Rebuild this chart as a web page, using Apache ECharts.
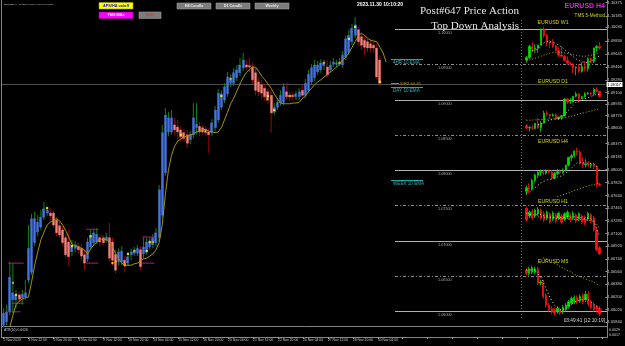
<!DOCTYPE html>
<html><head><meta charset="utf-8">
<script src="https://cdn.jsdelivr.net/npm/echarts@6/dist/echarts.min.js"></script>
<style>html,body{margin:0;padding:0;background:#000;}#c{width:625px;height:346px;}</style>
</head><body><div id="c"></div>
<script>
// ---------------- main H4 chart data (Heiken Ashi bodies + real wicks) ----------------
const tickLabels = ['2 Nov 2023','3 Nov 12:00','6 Nov 20:00','8 Nov 04:00','9 Nov 12:00','10 Nov 20:00','14 Nov 04:00','15 Nov 12:00','16 Nov 20:00','20 Nov 04:00','21 Nov 12:00','22 Nov 20:00','24 Nov 04:00','27 Nov 12:00','28 Nov 20:00','30 Nov 04:00'];
const haOpen = [1.0580,1.0585,1.0599,1.0616,1.0616,1.0623,1.0619,1.0620,1.0644,1.0655,1.0697,1.0712,1.0719,1.0733,1.0739,1.0739,1.0739,1.0729,1.0721,1.0715,1.0704,1.0698,1.0684,1.0689,1.0691,1.0689,1.0680,1.0674,1.0691,1.0697,1.0698,1.0704,1.0704,1.0701,1.0704,1.0698,1.0680,1.0670,1.0670,1.0672,1.0668,1.0680,1.0682,1.0682,1.0687,1.0681,1.0684,1.0691,1.0694,1.0697,1.0704,1.0736,1.0796,1.0854,1.0854,1.0864,1.0861,1.0857,1.0853,1.0850,1.0843,1.0850,1.0860,1.0862,1.0860,1.0858,1.0854,1.0853,1.0860,1.0871,1.0889,1.0899,1.0908,1.0923,1.0923,1.0931,1.0938,1.0945,1.0949,1.0948,1.0946,1.0938,1.0925,1.0921,1.0916,1.0911,1.0906,1.0882,1.0889,1.0895,1.0896,1.0911,1.0906,1.0906,1.0904,1.0904,1.0913,1.0906,1.0913,1.0925,1.0931,1.0939,1.0942,1.0948,1.0946,1.0942,1.0950,1.0950,1.0950,1.0949,1.0960,1.0967,1.0982,1.0991,1.0999,1.0989,1.0984,1.0982,1.0979,1.0977,1.0973,1.0956];
const haClose = [1.0597,1.0599,1.0648,1.0626,1.0623,1.0617,1.0624,1.0626,1.0689,1.0731,1.0731,1.0726,1.0733,1.0745,1.0743,1.0735,1.0722,1.0711,1.0708,1.0697,1.0680,1.0677,1.0694,1.0694,1.0687,1.0678,1.0668,1.0698,1.0708,1.0711,1.0709,1.0698,1.0697,1.0705,1.0675,1.0672,1.0658,1.0684,1.0685,1.0665,1.0677,1.0684,1.0687,1.0689,1.0663,1.0691,1.0698,1.0698,1.0704,1.0711,1.0772,1.0853,1.0878,1.0874,1.0874,1.0857,1.0854,1.0847,1.0845,1.0838,1.0850,1.0874,1.0865,1.0854,1.0854,1.0853,1.0850,1.0867,1.0885,1.0909,1.0908,1.0918,1.0932,1.0931,1.0938,1.0942,1.0949,1.0956,1.0946,1.0946,1.0928,1.0913,1.0911,1.0909,1.0904,1.0899,1.0881,1.0889,1.0896,1.0906,1.0918,1.0904,1.0904,1.0904,1.0908,1.0911,1.0906,1.0923,1.0936,1.0945,1.0949,1.0949,1.0952,1.0952,1.0935,1.0949,1.0953,1.0952,1.0953,1.0963,1.0986,1.0991,1.1001,1.1006,1.0982,1.0977,1.0974,1.0973,1.0973,1.0973,1.0932,1.0923];
const barHigh = [1.0604,1.0609,1.0670,1.0668,1.0630,1.0627,1.0630,1.0644,1.0722,1.0738,1.0741,1.0736,1.0743,1.0755,1.0748,1.0746,1.0743,1.0733,1.0726,1.0721,1.0709,1.0715,1.0701,1.0699,1.0697,1.0695,1.0687,1.0704,1.0715,1.0716,1.0718,1.0709,1.0708,1.0711,1.0725,1.0704,1.0687,1.0689,1.0692,1.0678,1.0684,1.0689,1.0691,1.0694,1.0692,1.0704,1.0704,1.0704,1.0709,1.0718,1.0779,1.0864,1.0888,1.0882,1.0885,1.0874,1.0871,1.0862,1.0858,1.0857,1.0855,1.0895,1.0895,1.0868,1.0864,1.0862,1.0860,1.0872,1.0891,1.0915,1.0913,1.0923,1.0939,1.0936,1.0945,1.0949,1.0959,1.0966,1.0956,1.0959,1.0952,1.0945,1.0931,1.0928,1.0922,1.0916,1.0913,1.0895,1.0902,1.0913,1.0923,1.0923,1.0911,1.0911,1.0912,1.0916,1.0921,1.0929,1.0942,1.0950,1.0956,1.0955,1.0957,1.0956,1.0956,1.0955,1.0959,1.0956,1.0959,1.0969,1.0991,1.0999,1.1007,1.1017,1.1003,1.0994,1.0990,1.0987,1.0984,1.0983,1.0979,1.0962];
const barLow = [1.0577,1.0580,1.0594,1.0597,1.0604,1.0613,1.0609,1.0616,1.0640,1.0651,1.0692,1.0706,1.0715,1.0729,1.0735,1.0729,1.0718,1.0706,1.0704,1.0692,1.0675,1.0663,1.0678,1.0684,1.0682,1.0671,1.0658,1.0670,1.0687,1.0692,1.0695,1.0692,1.0692,1.0697,1.0670,1.0665,1.0654,1.0664,1.0665,1.0655,1.0664,1.0672,1.0678,1.0678,1.0658,1.0675,1.0680,1.0687,1.0689,1.0692,1.0699,1.0732,1.0792,1.0848,1.0850,1.0850,1.0840,1.0841,1.0840,1.0831,1.0837,1.0845,1.0850,1.0848,1.0850,1.0848,1.0824,1.0848,1.0855,1.0867,1.0885,1.0895,1.0904,1.0918,1.0919,1.0926,1.0933,1.0940,1.0942,1.0939,1.0922,1.0906,1.0905,1.0902,1.0898,1.0894,1.0853,1.0878,1.0885,1.0891,1.0892,1.0899,1.0898,1.0899,1.0899,1.0899,1.0902,1.0902,1.0909,1.0921,1.0926,1.0935,1.0938,1.0942,1.0931,1.0938,1.0946,1.0946,1.0948,1.0945,1.0956,1.0963,1.0977,1.0987,1.0976,1.0970,1.0963,1.0967,1.0967,1.0966,1.0928,1.0919];
const ema10 = [null,null,1.0577,1.0594,1.0609,1.0614,1.0617,1.0619,1.0620,1.0641,1.0665,1.0684,1.0701,1.0712,1.0722,1.0726,1.0729,1.0731,1.0728,1.0722,1.0714,1.0704,1.0695,1.0692,1.0692,1.0689,1.0687,1.0681,1.0688,1.0694,1.0698,1.0702,1.0702,1.0701,1.0698,1.0691,1.0682,1.0674,1.0668,1.0665,1.0665,1.0665,1.0667,1.0668,1.0671,1.0674,1.0675,1.0678,1.0681,1.0687,1.0697,1.0722,1.0765,1.0800,1.0821,1.0834,1.0841,1.0844,1.0847,1.0848,1.0850,1.0851,1.0854,1.0855,1.0857,1.0857,1.0855,1.0854,1.0853,1.0854,1.0860,1.0871,1.0882,1.0894,1.0902,1.0912,1.0922,1.0931,1.0938,1.0942,1.0946,1.0946,1.0940,1.0933,1.0928,1.0922,1.0916,1.0908,1.0901,1.0895,1.0894,1.0894,1.0894,1.0895,1.0895,1.0896,1.0901,1.0905,1.0911,1.0916,1.0921,1.0925,1.0928,1.0932,1.0935,1.0939,1.0942,1.0946,1.0950,1.0956,1.0960,1.0966,1.0974,1.0982,1.0990,1.0994,1.0991,1.0987,1.0984,1.0983,1.0982,1.0974,1.0966,1.0953];
// signal dots: [bar, price, 'y' yellow | 'o' orange]
const signals = [[3,1.0640,'o'],[4,1.0623,'y'],[14,1.0746,'y'],[22,1.0692,'y'],[28,1.0706,'y'],[35,1.0668,'y'],[36,1.0670,'o'],[39,1.0665,'o'],[40,1.0681,'y'],[42,1.0685,'o'],[46,1.0685,'y'],[47,1.0698,'y'],[48,1.0698,'o'],[57,1.0850,'y'],[70,1.0905,'y'],[73,1.0929,'o'],[85,1.0905,'y'],[87,1.0885,'y'],[92,1.0905,'o'],[103,1.0952,'o'],[108,1.0952,'o'],[111,1.0986,'y'],[113,1.1003,'y'],[121,1.0925,'y']];
// session range brackets: [fromBar, toBar, price]
const ranges = [[2,6,1.0668],[3,6,1.0611],[2,5,1.0599],[27,30,1.0716],[27,30,1.0668],[45,48,1.0705],[45,48,1.0668]];
const priceTicks = [1.10375,1.10185,1.10030,1.09830,1.09645,1.09460,1.09280,1.09100,1.08935,1.08770,1.08600,1.08375,1.08185,1.08005,1.07820,1.07640,1.07465,1.07285,1.07100,1.06920,1.06740,1.06560,1.06380,1.06200,1.06020,1.05840];
const bidLineLevel = 1.0922;
const bidLabel = '1.09117';
const roundLevels = [1.10000,1.09500,1.09000,1.08500,1.08000,1.07500,1.07000,1.06500,1.06000];
const emaLevelNames = ['4HR 10 EMA','DAY 10 EMA','WEEK 10 EMA'];
const emaLevelValues = [1.0957,1.0918,1.0786];
const srLevelName = 'S/R2 60-61';
const srLevelValue = 1.0924;
const atrTicks = [0.0029,0.0017];
const atrText = 'ATR(10) 0.0026';

// ---------------- top-down mini panels: [open, close, low, high] ----------------
const w1Candles = [[1.0710,1.0750,1.0665,1.0780],[1.0750,1.0940,1.0730,1.0970],[1.0940,1.0895,1.0845,1.1010],[1.0895,1.0910,1.0835,1.0975],[1.0910,1.0965,1.0835,1.0970],[1.0965,1.1230,1.0960,1.1245],[1.1230,1.1125,1.1090,1.1275],[1.1125,1.1015,1.0945,1.1150],[1.1015,1.1005,1.0915,1.1045],[1.1005,1.0945,1.0910,1.1065],[1.0945,1.0870,1.0860,1.0965],[1.0870,1.0795,1.0765,1.0930],[1.0795,1.0775,1.0770,1.0945],[1.0775,1.0700,1.0685,1.0800],[1.0700,1.0660,1.0630,1.0770],[1.0660,1.0645,1.0615,1.0680],[1.0645,1.0575,1.0490,1.0660],[1.0575,1.0590,1.0450,1.0595],[1.0590,1.0520,1.0495,1.0640],[1.0520,1.0595,1.0495,1.0670],[1.0595,1.0565,1.0520,1.0695],[1.0565,1.0730,1.0515,1.0755],[1.0730,1.0685,1.0655,1.0755],[1.0685,1.0915,1.0655,1.0915],[1.0915,1.0940,1.0850,1.0965],[1.0940,1.0912,1.0880,1.1017]];
const w1MaSlow = [1.0700,1.0710,1.0725,1.0740,1.0755,1.0775,1.0795,1.0810,1.0825,1.0835,1.0840,1.0840,1.0835,1.0830,1.0820,1.0810,1.0800,1.0790,1.0780,1.0775,1.0775,1.0780,1.0790,1.0800,1.0815,1.0830];
const w1MaFast = [null,null,1.0870,1.0880,1.0900,1.0960,1.1000,1.1020,1.1020,1.1010,1.0990,1.0960,1.0930,1.0890,1.0850,1.0810,1.0770,1.0730,1.0700,1.0680,1.0665,1.0675,1.0680,1.0720,1.0755,1.0780];
const d1Candles = [[1.0590,1.0565,1.0550,1.0605],[1.0565,1.0568,1.0525,1.0590],[1.0568,1.0562,1.0540,1.0600],[1.0562,1.0615,1.0550,1.0620],[1.0615,1.0570,1.0555,1.0675],[1.0570,1.0620,1.0520,1.0640],[1.0620,1.0730,1.0615,1.0755],[1.0730,1.0715,1.0700,1.0755],[1.0715,1.0700,1.0665,1.0720],[1.0700,1.0710,1.0690,1.0725],[1.0710,1.0670,1.0660,1.0725],[1.0670,1.0685,1.0655,1.0690],[1.0685,1.0700,1.0655,1.0705],[1.0700,1.0885,1.0695,1.0890],[1.0885,1.0850,1.0830,1.0890],[1.0850,1.0852,1.0830,1.0895],[1.0852,1.0915,1.0845,1.0915],[1.0915,1.0940,1.0900,1.0965],[1.0940,1.0890,1.0850,1.0950],[1.0890,1.0910,1.0880,1.0920],[1.0910,1.0940,1.0900,1.0960],[1.0940,1.0950,1.0930,1.0960],[1.0950,1.0945,1.0920,1.0960],[1.0945,1.0990,1.0920,1.1010],[1.0990,1.0970,1.0960,1.1017],[1.0970,1.0912,1.0905,1.0975]];
const d1MaSlow = [1.0650,1.0650,1.0652,1.0654,1.0656,1.0658,1.0660,1.0662,1.0664,1.0666,1.0668,1.0670,1.0672,1.0676,1.0684,1.0692,1.0700,1.0710,1.0720,1.0728,1.0736,1.0744,1.0752,1.0760,1.0768,1.0775];
const d1MaFast = [null,null,null,null,1.0600,1.0605,1.0625,1.0640,1.0650,1.0660,1.0662,1.0665,1.0670,1.0710,1.0750,1.0780,1.0815,1.0850,1.0860,1.0870,1.0885,1.0900,1.0910,1.0925,1.0935,1.0935];
const h4Candles = [[1.0895,1.0905,1.0885,1.0912],[1.0905,1.0902,1.0890,1.0918],[1.0902,1.0925,1.0898,1.0930],[1.0925,1.0940,1.0920,1.0945],[1.0940,1.0948,1.0932,1.0952],[1.0948,1.0950,1.0938,1.0956],[1.0950,1.0946,1.0940,1.0955],[1.0946,1.0952,1.0942,1.0957],[1.0952,1.0949,1.0943,1.0956],[1.0949,1.0932,1.0928,1.0955],[1.0932,1.0945,1.0930,1.0950],[1.0945,1.0950,1.0940,1.0958],[1.0950,1.0948,1.0942,1.0956],[1.0948,1.0955,1.0944,1.0959],[1.0955,1.0968,1.0950,1.0970],[1.0968,1.0990,1.0965,1.0992],[1.0990,1.0995,1.0980,1.1000],[1.0995,1.1008,1.0990,1.1010],[1.1008,1.1005,1.0995,1.1017],[1.1005,1.0975,1.0970,1.1010],[1.0975,1.0970,1.0960,1.0990],[1.0970,1.0972,1.0962,1.0985],[1.0972,1.0968,1.0963,1.0980],[1.0968,1.0970,1.0960,1.0975],[1.0970,1.0965,1.0958,1.0976],[1.0965,1.0915,1.0905,1.0968],[1.0915,1.0912,1.0909,1.0919]];
const h4MaSlow = [null,null,null,null,null,null,null,null,null,null,null,1.0880,1.0882,1.0885,1.0888,1.0891,1.0894,1.0897,1.0900,1.0903,1.0906,1.0908,1.0910,1.0912,1.0914,1.0916,1.0917];
const h4MaFast = [1.0890,1.0893,1.0898,1.0905,1.0912,1.0918,1.0922,1.0926,1.0929,1.0929,1.0932,1.0935,1.0937,1.0940,1.0945,1.0953,1.0960,1.0968,1.0975,1.0975,1.0975,1.0975,1.0974,1.0973,1.0972,1.0963,1.0955];
const h1Candles = [[1.0995,1.0972,1.0968,1.0998],[1.0980,1.0987,1.0976,1.0990],[1.0989,1.0976,1.0972,1.0993],[1.0980,1.0991,1.0976,1.0994],[1.0984,1.0993,1.0980,1.0997],[1.0991,1.0976,1.0972,1.0994],[1.0985,1.0972,1.0968,1.0989],[1.0976,1.0987,1.0972,1.0990],[1.0984,1.0968,1.0965,1.0987],[1.0974,1.0985,1.0970,1.0989],[1.0982,1.0970,1.0966,1.0986],[1.0976,1.0985,1.0972,1.0988],[1.0980,1.0968,1.0964,1.0984],[1.0974,1.0984,1.0970,1.0987],[1.0978,1.0987,1.0974,1.0991],[1.0982,1.0972,1.0968,1.0986],[1.0976,1.0985,1.0972,1.0989],[1.0982,1.0970,1.0966,1.0985],[1.0974,1.0984,1.0970,1.0987],[1.0980,1.0968,1.0964,1.0983],[1.0978,1.0966,1.0962,1.0981],[1.0974,1.0985,1.0970,1.0988],[1.0982,1.0970,1.0966,1.0985],[1.0976,1.0953,1.0950,1.0980],[1.0953,1.0915,1.0912,1.0957],[1.0919,1.0907,1.0905,1.0922]];
const h1MaSlow = [null,null,null,null,1.0978,1.0978,1.0977,1.0977,1.0976,1.0976,1.0975,1.0975,1.0975,1.0974,1.0974,1.0974,1.0974,1.0973,1.0973,1.0973,1.0972,1.0972,1.0971,1.0969,1.0964,1.0958];
const h1MaFast = [1.0985,1.0983,1.0982,1.0982,1.0984,1.0983,1.0980,1.0980,1.0978,1.0978,1.0977,1.0978,1.0976,1.0977,1.0979,1.0978,1.0979,1.0977,1.0978,1.0976,1.0974,1.0976,1.0975,1.0970,1.0955,1.0940];
const m5Candles = [[1.0950,1.0947,1.0945,1.0952],[1.0947,1.0951,1.0945,1.0953],[1.0948,1.0952,1.0946,1.0954],[1.0948,1.0951,1.0946,1.0953],[1.0951,1.0938,1.0936,1.0953],[1.0938,1.0939,1.0936,1.0941],[1.0939,1.0926,1.0924,1.0941],[1.0927,1.0918,1.0916,1.0929],[1.0918,1.0914,1.0912,1.0920],[1.0915,1.0912,1.0910,1.0917],[1.0914,1.0911,1.0909,1.0916],[1.0912,1.0915,1.0910,1.0917],[1.0914,1.0911,1.0909,1.0916],[1.0912,1.0916,1.0910,1.0918],[1.0914,1.0918,1.0912,1.0920],[1.0917,1.0921,1.0915,1.0923],[1.0920,1.0924,1.0918,1.0926],[1.0921,1.0925,1.0919,1.0927],[1.0925,1.0921,1.0919,1.0927],[1.0922,1.0926,1.0920,1.0928],[1.0927,1.0921,1.0919,1.0929],[1.0923,1.0928,1.0921,1.0931],[1.0928,1.0919,1.0917,1.0931],[1.0921,1.0916,1.0914,1.0923],[1.0918,1.0914,1.0912,1.0920],[1.0917,1.0914,1.0911,1.0918],[1.0915,1.0910,1.0908,1.0917]];
const m5MaSlow = [null,null,null,null,null,null,1.0961,1.0960,1.0959,1.0957,1.0956,1.0955,1.0953,1.0952,1.0950,1.0949,1.0948,1.0946,1.0945,1.0944,1.0943,1.0942,1.0941,1.0940,1.0939,1.0937,1.0936];
const m5MaFast = [1.0950,1.0950,1.0950,1.0950,1.0947,1.0944,1.0939,1.0933,1.0927,1.0922,1.0918,1.0916,1.0914,1.0914,1.0915,1.0917,1.0919,1.0921,1.0922,1.0923,1.0923,1.0924,1.0923,1.0921,1.0919,1.0917,1.0915];

// ---------------- build ----------------
const SANS = '"Liberation Sans", Arial, sans-serif';
const SLOTS = 194;
const cats = Array.from({length: SLOTS}, (_, i) => String(i));
const MAIN_MIN = 1.057885, MAIN_MAX = 1.104112;

const haData = haOpen.map((o, i) => [o, haClose[i], Math.min(o, haClose[i]), Math.max(o, haClose[i])]);
const wickData = haOpen.map((o, i) => [i, barLow[i], barHigh[i], haClose[i] >= o ? 1 : 0]);

const grids = [
  {left: 2, right: 18, top: 0, height: 326},
  {left: 2, right: 18, top: 326, height: 11},
  {left: 395, right: 18, top: 0, height: 326},
  {left: 391, width: 32, top: 0, height: 326}
];
const xAxes = [
  {type: 'category', gridIndex: 0, data: cats, boundaryGap: true, axisLine: {show: false}, axisTick: {show: false}, axisLabel: {show: false}},
  {type: 'category', gridIndex: 1, data: cats, boundaryGap: true, position: 'bottom',
   axisLine: {show: false},
   axisTick: {show: true, interval: 7, alignWithLabel: true, length: 2, lineStyle: {color: '#9a9a9a'}},
   axisLabel: {interval: 7, align: 'left', margin: 1.5, fontSize: 3.4, color: '#c8c8c8', fontFamily: SANS,
     formatter: (v, idx) => tickLabels[idx / 8] || ''}},
  {type: 'value', gridIndex: 2, min: 0, max: 1, show: false},
  {type: 'value', gridIndex: 3, min: 0, max: 1, show: false}
];
const yAxes = [
  {type: 'value', gridIndex: 0, position: 'right', min: MAIN_MIN, max: MAIN_MAX, splitLine: {show: false},
   axisLine: {show: false}, axisTick: {show: true, length: 1.5, customValues: priceTicks, lineStyle: {color: '#9a9a9a'}},
   axisLabel: {customValues: priceTicks, formatter: v => v.toFixed(5), fontSize: 4, color: '#cfcfcf', margin: 2, fontFamily: SANS}},
  {type: 'value', gridIndex: 1, position: 'right', min: 0.00125, max: 0.00374, splitLine: {show: false},
   axisLine: {show: false}, axisTick: {show: false},
   axisLabel: {customValues: atrTicks, formatter: v => v.toFixed(4), fontSize: 3.6, color: '#cfcfcf', margin: 2, fontFamily: SANS}},
  {type: 'value', gridIndex: 2, min: MAIN_MIN, max: MAIN_MAX, show: false},
  {type: 'value', gridIndex: 3, min: MAIN_MIN, max: MAIN_MAX, show: false}
];

// horizontal level renderer (custom series): value -> full-width line inside its grid, with optional label
function levelSeries(name, xi, values, styleFn, labelFn) {
  return {type: 'custom', name, xAxisIndex: xi, yAxisIndex: xi, z: 1, silent: true,
    data: values.map((v, k) => [0, v, k]), encode: {x: 0, y: 1},
    renderItem: (params, api) => {
      const cs = params.coordSys;
      const k = api.value(2);
      const y = Math.round(api.coord([0, api.value(1)])[1]) + 0.5;
      const st = styleFn(k);
      const children = [];
      if (st.color) children.push({type: 'line', shape: {x1: cs.x, y1: y, x2: cs.x + (st.len || cs.width), y2: y},
        style: {stroke: st.color, lineWidth: 1, lineDash: st.dash || null}});
      const lab = labelFn(k, api.value(1), cs, y);
      if (lab) children.push(lab);
      return {type: 'group', children};
    }};
}

const series = [
  levelSeries('bid', 0, [bidLineLevel], () => ({color: '#4e4e4e'}),
    (k, v, cs, y) => ({type: 'text', x: cs.x + cs.width + 1, y: y,
      style: {text: bidLabel, fill: '#000000', backgroundColor: '#ffffff', padding: [0.6, 1.5, 0.4, 1],
        font: '3.8px ' + SANS, align: 'left', verticalAlign: 'middle'}})),
  levelSeries('levels', 2, roundLevels, k => (k % 2 === 0 ? {color: '#b0b0b0'} : {color: '#8c8c8c', dash: [3, 2, 1, 2]}),
    (k, v, cs, y) => ({type: 'text', x: cs.x + 43, y: y + 1.5,
      style: {text: v.toFixed(5), fill: '#a8a8a8', font: '3.8px ' + SANS, align: 'left', verticalAlign: 'top'}})),
  {type: 'custom', name: 'wicks', xAxisIndex: 0, yAxisIndex: 0, z: 2, data: wickData, encode: {x: 0, y: [1, 2]},
   renderItem: (params, api) => {
     const i = api.value(0);
     const lo = api.coord([i, api.value(1)]);
     const hi = api.coord([i, api.value(2)]);
     return {type: 'line', shape: {x1: lo[0], y1: lo[1], x2: hi[0], y2: hi[1]},
       style: {stroke: api.value(3) ? '#128312' : '#9c0a0a', lineWidth: 1}};
   }},
  {type: 'candlestick', name: 'HA', xAxisIndex: 0, yAxisIndex: 0, z: 3, data: haData, barWidth: 2.5,
   itemStyle: {color: '#4473e2', color0: '#f4817a', borderColor: '#4473e2', borderColor0: '#f4817a', borderWidth: 0.4}},
  {type: 'line', name: 'EMA', xAxisIndex: 0, yAxisIndex: 0, z: 4, data: ema10, symbol: 'none', connectNulls: false,
   lineStyle: {color: '#a39400', width: 1}},
  {type: 'scatter', name: 'signals', xAxisIndex: 0, yAxisIndex: 0, z: 5, symbol: 'rect', symbolSize: 2.2,
   data: signals.map(s => [s[0], s[1], s[2]]),
   itemStyle: {color: p => p.data[2] === 'o' ? '#ffa500' : '#ffff00'}},
  {type: 'custom', name: 'ranges', xAxisIndex: 0, yAxisIndex: 0, z: 4, data: ranges, encode: {x: [0, 1], y: 2},
   renderItem: (params, api) => {
     const a = api.coord([api.value(0), api.value(2)]);
     const b = api.coord([api.value(1), api.value(2)]);
     return {type: 'line', shape: {x1: a[0] - 1.5, y1: a[1], x2: b[0] + 1.5, y2: b[1]},
       style: {stroke: '#b8187a', lineWidth: 1}};
   }},
  levelSeries('emaLevels', 3, emaLevelValues, () => ({color: '#2aa3a3'}),
    (k, v, cs, y) => ({type: 'text', x: cs.x + 2, y: y + 1,
      style: {text: emaLevelNames[k], fill: '#2fb0b0', font: '4.6px ' + SANS, align: 'left', verticalAlign: 'top'}})),
  levelSeries('srLevel', 3, [srLevelValue], () => ({color: '#9c9200', len: 8}),
    (k, v, cs, y) => ({type: 'text', x: cs.x + 9, y: y,
      style: {text: srLevelName, fill: '#a89c10', font: '4.2px ' + SANS, align: 'left', verticalAlign: 'middle'}}))
];

// mini panels
const panels = [
  {title: 'EURUSD W1', c: w1Candles, slow: w1MaSlow, fast: w1MaFast, top: 26, height: 50, min: 1.0440, max: 1.1285, ty: 20},
  {title: 'EURUSD D1', c: d1Candles, slow: d1MaSlow, fast: d1MaFast, top: 84, height: 52, min: 1.0476, max: 1.1050, ty: 79.5},
  {title: 'EURUSD H4', c: h4Candles, slow: h4MaSlow, fast: h4MaFast, top: 145, height: 52, min: 1.0879, max: 1.1025, ty: 139.5},
  {title: 'EURUSD H1', c: h1Candles, slow: h1MaSlow, fast: h1MaFast, top: 205, height: 52, min: 1.0901, max: 1.1001, ty: 199.5},
  {title: 'EURUSD M5', c: m5Candles, slow: m5MaSlow, fast: m5MaFast, top: 256, height: 60, min: 1.09082, max: 1.09627, ty: 259.5}
];
const graphics = [];
panels.forEach((p) => {
  const gi = grids.length;
  grids.push({left: 525, width: 76, top: p.top, height: p.height});
  const xi = xAxes.length;
  xAxes.push({type: 'category', gridIndex: gi, data: p.c.map((_, i) => String(i)), show: false, boundaryGap: true});
  yAxes.push({type: 'value', gridIndex: gi, min: p.min, max: p.max, show: false});
  series.push({type: 'candlestick', xAxisIndex: xi, yAxisIndex: xi, data: p.c, barWidth: 1.8,
    itemStyle: {color: '#00dd00', color0: '#ff1010', borderColor: '#00dd00', borderColor0: '#ff1010', borderWidth: 0.8}});
  series.push({type: 'line', xAxisIndex: xi, yAxisIndex: xi, data: p.slow, symbol: 'none',
    lineStyle: {color: '#c8b400', width: 1, type: [1, 2]}});
  series.push({type: 'line', xAxisIndex: xi, yAxisIndex: xi, data: p.fast, symbol: 'none',
    lineStyle: {color: '#dddddd', width: 1, type: [1, 2.5]}});
  graphics.push({type: 'text', x: 553, y: p.ty, style: {text: p.title, fill: '#d6d600', font: '5.2px ' + SANS, align: 'center', verticalAlign: 'top'}});
});

function txt(text, x, y, font, fill, align) {
  return {type: 'text', x, y, style: {text, font, fill, align: align || 'left', verticalAlign: 'top'}};
}
function button(label, x, y, w, h, bg, fg, stroke) {
  return [
    {type: 'rect', shape: {x, y, width: w, height: h}, style: {fill: bg, stroke: stroke || '#9a9a9a', lineWidth: 0.6}},
    {type: 'text', x: x + w / 2, y: y + h / 2, style: {text: label, font: 'bold 3.8px ' + SANS, fill: fg, align: 'center', verticalAlign: 'middle'}}
  ];
}
function hline(x1, x2, y) { return {type: 'line', shape: {x1, y1: y, x2, y2: y}, style: {stroke: '#858585', lineWidth: 1}}; }
function vline(x, y1, y2) { return {type: 'line', shape: {x1: x, y1, x2: x, y2}, style: {stroke: '#858585', lineWidth: 1}}; }
graphics.push(
  vline(1.5, 0, 338), vline(607.5, 0, 338), hline(1.5, 607.5, 326.5), hline(1.5, 607.5, 337.5),
  txt('EURUSD,H4  1.09150 1.09190 1.09090 1.09117', 4, 3, '2.3px ' + SANS, '#d0d0d0'),
  ...button('APS/HA on/off', 99, 2.5, 34, 6.5, '#ffff00', '#1010e0', '#a0a000'),
  ...button('TMS MAs', 99, 12, 34, 6.5, '#ff00ff', '#ffffff', '#a000a0'),
  ...button('S&R', 139, 12, 22, 6.5, '#7a7a7a', '#ff2a2a'),
  ...button('H4 Candle', 177, 3, 34, 6, '#7c7c7c', '#e6e6e6'),
  ...button('D1 Candle', 216, 3, 34, 6, '#7c7c7c', '#e6e6e6'),
  ...button('Weekly', 255, 3, 34, 6, '#7c7c7c', '#e6e6e6'),
  txt('2023.11.30 10:10:20', 357, 2.5, 'bold 5px ' + SANS, '#ffffff'),
  txt('Post#647 Price Action', 519, 6, '11px "Liberation Serif", "Times New Roman", serif', '#e6e6e6', 'right'),
  txt('Top Down Analysis', 519, 21, '11px "Liberation Serif", "Times New Roman", serif', '#e6e6e6', 'right'),
  txt('EURUSD H4', 605, 2.5, 'bold 7px ' + SANS, '#e61ee6', 'right'),
  txt('TMS 5-Method', 605, 13, '4.6px ' + SANS, '#d4d400', 'right'),
  txt('03:49:41 [12:10:19]', 605, 318.5, '4.8px ' + SANS, '#d8d8d8', 'right'),
  txt(atrText, 4, 328.5, '3.4px ' + SANS, '#c8c8c8'),
  {type: 'line', shape: {x1: 521.5, y1: 20, x2: 521.5, y2: 318}, style: {stroke: '#6e6e6e', lineWidth: 1, lineDash: [1, 2]}}
);

const chart = echarts.init(document.getElementById('c'), null, {renderer: 'canvas'});
chart.setOption({
  backgroundColor: '#000000',
  animation: false,
  grid: grids, xAxis: xAxes, yAxis: yAxes, series: series, graphic: graphics
});
</script></body></html>
